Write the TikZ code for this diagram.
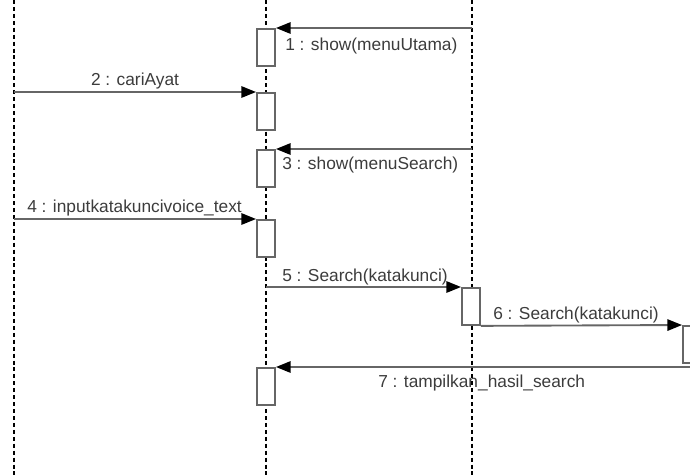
\documentclass[tikz,border=0pt]{standalone}
\usepackage{fontspec}
\setmainfont{Liberation Sans}
\usetikzlibrary{arrows.meta}
\definecolor{lineg}{HTML}{666666}
\definecolor{txtg}{HTML}{3C3C3C}
\begin{document}
\begin{tikzpicture}[x=0.75pt,y=-0.75pt,
  lifeline/.style={draw=black, line width=0.8pt, dash pattern=on 3pt off 2.2pt},
  act/.style={draw=lineg, fill=white, line width=1.4pt, minimum width=13.5pt, minimum height=27.75pt, inner sep=0pt, anchor=north},
  msg/.style={draw=lineg, line width=1.4pt, -{Triangle[length=11pt,width=8.5pt,color=black]}},
  lbl/.style={text=txtg, inner sep=0pt, font=\fontsize{13}{15}\selectfont}]
\useasboundingbox (0,0) rectangle (690,475);
% lifelines
\coordinate (L1t) at (14,0);   \coordinate (L1b) at (14,475);
\coordinate (L2t) at (266,0);  \coordinate (L2b) at (266,475);
\coordinate (L3t) at (472,0);  \coordinate (L3b) at (472,475);
\draw[lifeline] (L1t) -- (L1b);
\draw[lifeline] (L2t) -- (L2b);
\draw[lifeline] (L3t) -- (L3b);
% activation boxes
\node[act] (a1) at (266,28) {};
\node[act] (a2) at (266,92) {};
\node[act] (a3) at (266,149) {};
\node[act] (a4) at (266,219) {};
\node[act] (a5) at (471,287) {};
\node[act] (a6) at (692,325) {};
\node[act] (a7) at (266,367) {};
% message sources
\coordinate (s1) at (472,28);
\coordinate (s2) at (14,92);
\coordinate (s3) at (472,149);
\coordinate (s4) at (14,219);
\coordinate (s5) at (266,287);
\coordinate (s7) at (692,367);
% messages
\draw[msg] (s1) -- (a1.north east);
\draw[msg] (s2) -- (a2.north west);
\draw[msg] (s3) -- (a3.north east);
\draw[msg] (s4) -- (a4.north west);
\draw[msg] (s5) -- (a5.north west);
\draw[msg] (a5.south east) -- (a6.north west);
\draw[msg] (s7) -- (a7.north east);
% labels
\node[lbl, anchor=west] (t1) at (285,46) {1 : show(menuUtama)};
\node[lbl] (t2) at (135,81) {2 : cariAyat};
\node[lbl, anchor=west] (t3) at (282,165) {3 : show(menuSearch)};
\node[lbl, anchor=west] (t4) at (27,208) {4 : inputkatakuncivoice\_text};
\node[lbl, anchor=west] (t5) at (282,277) {5 : Search(katakunci)};
\node[lbl, anchor=west] (t6) at (493,315) {6 : Search(katakunci)};
\node[lbl, anchor=west] (t7) at (378,383) {7 : tampilkan\_hasil\_search};
\end{tikzpicture}
\end{document}
